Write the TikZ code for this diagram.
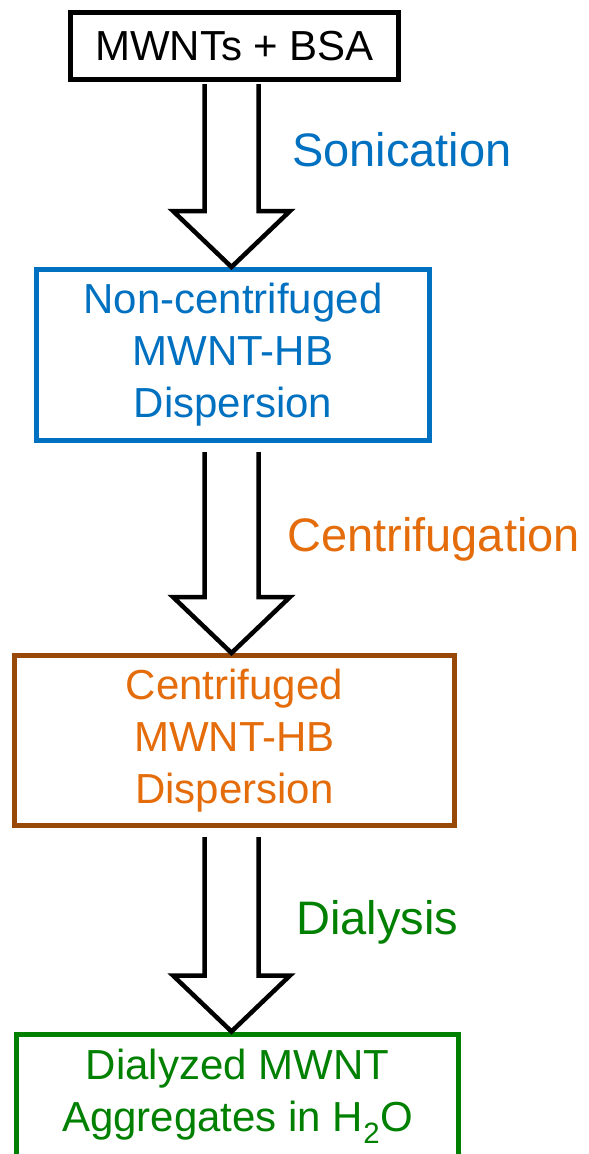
\documentclass[tikz,border=0pt]{standalone}
\usepackage{fontspec}
\setmainfont{Liberation Sans}
\usetikzlibrary{calc}
\definecolor{stepblue}{HTML}{0070C0}
\definecolor{steporange}{HTML}{E46C0A}
\definecolor{stepbrown}{HTML}{984807}
\definecolor{stepgreen}{HTML}{008000}
\tikzset{
  stagebox/.style={draw, line width=5pt, fill=white, align=center, inner sep=0pt,
    font=\fontsize{42}{52}\selectfont},
  steplabel/.style={anchor=base west, inner sep=0pt, font=\fontsize{47}{56}\selectfont},
  blockarrow/.style={draw=black, fill=white, line width=4.5pt, line join=miter},
}
\begin{document}
\begin{tikzpicture}[x=1pt, y=-1pt]
\clip (0,0) rectangle (589,1154);
\useasboundingbox (0,0) rectangle (589,1154);
\fill[white] (0,0) rectangle (589,1154);

% process stages
\node[stagebox, minimum width=328pt, minimum height=67pt] (mix) at (234.5,46) {MWNTs + BSA};
\node[stagebox, draw=stepblue, text=stepblue,
      minimum width=393pt, minimum height=171pt] (noncent) at (233,355)
      {Non-centrifuged\\MWNT-HB\\Dispersion};
\node[stagebox, draw=stepbrown, text=steporange,
      minimum width=440pt, minimum height=170pt] (cent) at (234.5,740.5)
      {Centrifuged\\MWNT-HB\\Dispersion};
\node[stagebox, draw=stepgreen, text=stepgreen,
      minimum width=442pt, minimum height=124pt] (dial) at (237.5,1096)
      {Dialyzed MWNT\\Aggregates in H\textsubscript{2}O};

% arrow axis
\coordinate (axis) at (231.5,0);

% block arrows between stages (start gap below the source box)
\foreach \a/\b/\g in {mix/noncent/2, noncent/cent/9, cent/dial/9}{
  \draw[blockarrow]
    let \p1 = ($(\a.south -| axis)+(0,\g)$),
        \p2 = (\b.north -| axis) in
    (\x1-27,\y1) -- (\x1-27,\y2+56) -- (\x1-58.5,\y2+56) -- (\x2,\y2)
    -- (\x1+58.5,\y2+56) -- (\x1+27,\y2+56) -- (\x1+27,\y1);
}

% step labels
\node[steplabel, text=stepblue] (sonic) at (292,166) {Sonication};
\node[steplabel, text=steporange] (centri) at (287,551) {Centrifugation};
\node[steplabel, text=stepgreen] (dialy) at (296,934) {Dialysis};
\end{tikzpicture}
\end{document}
